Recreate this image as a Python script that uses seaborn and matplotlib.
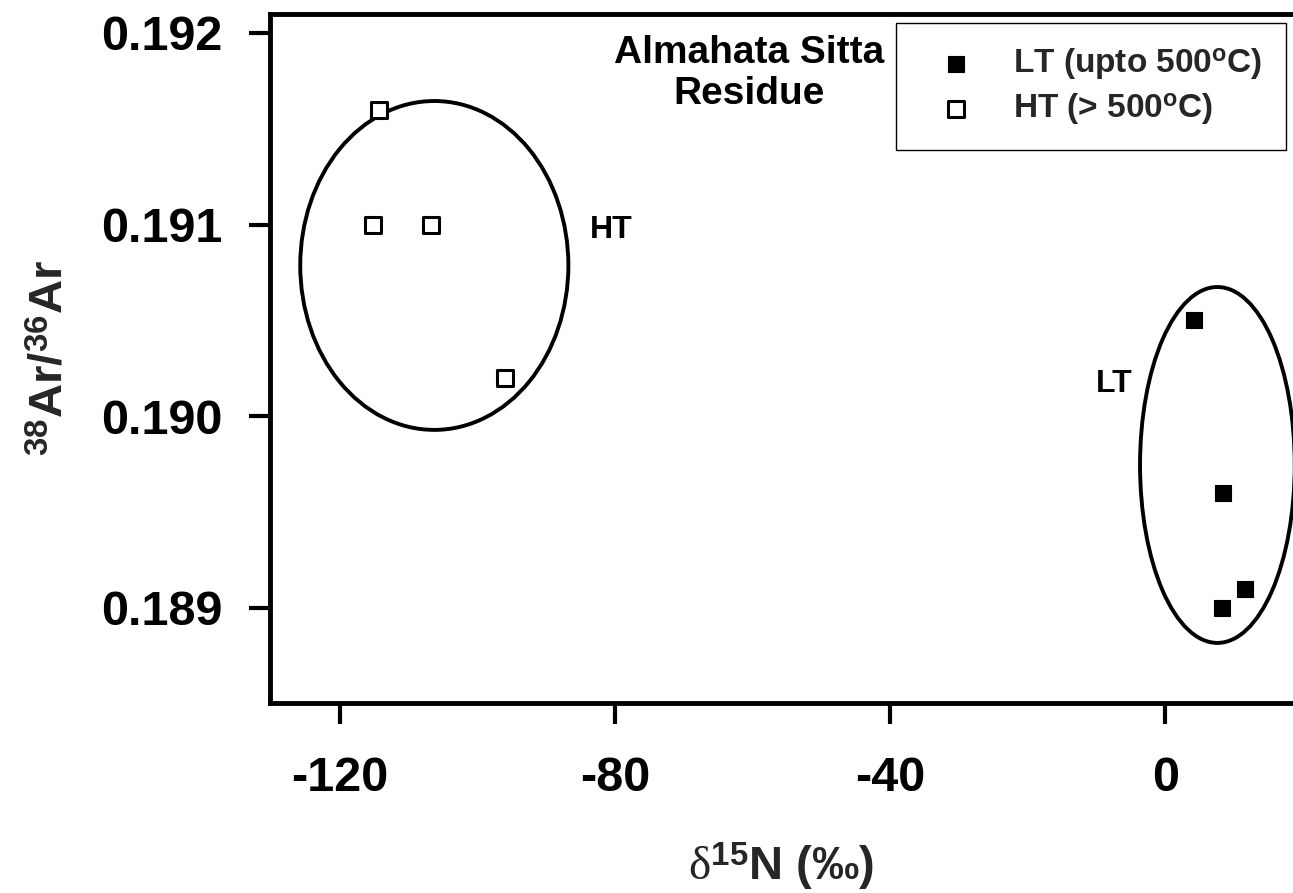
import matplotlib
matplotlib.use("Agg")
import matplotlib.pyplot as plt
from matplotlib.patches import Ellipse
import seaborn as sns

# Step-heating data: delta15N (permil) vs 38Ar/36Ar
lt_d15n = [4.2, 8.4, 8.3, 11.6]
lt_ar = [0.1905, 0.1896, 0.1890, 0.1891]
ht_d15n = [-114.3, -115.2, -106.8, -96.0]
ht_ar = [0.1916, 0.1910, 0.1910, 0.1902]

lt_label = r"LT (upto 500$^{\mathrm{o}}$C)"
ht_label = r"HT (> 500$^{\mathrm{o}}$C)"

x_ticks = [-120, -80, -40, 0]
y_ticks = [0.189, 0.190, 0.191, 0.192]

# outlines drawn around each temperature group: (centre x, centre y, width, height)
ht_outline = (-106.3, 0.190787, 39.0, 0.001716)
lt_outline = (7.6, 0.189746, 22.5, 0.001857)

sns.set_theme(style="white")
plt.rcParams["font.family"] = ["Liberation Sans", "DejaVu Sans"]
plt.rcParams["font.weight"] = "bold"
plt.rcParams["mathtext.fontset"] = "custom"
plt.rcParams["mathtext.rm"] = "Liberation Sans:bold"
plt.rcParams["mathtext.bf"] = "Liberation Sans:bold"
plt.rcParams["mathtext.it"] = "Liberation Serif:weight=normal"
plt.rcParams["axes.unicode_minus"] = False

fig = plt.figure(figsize=(12.93, 8.93), dpi=100)
ax = fig.add_axes([270 / 1293, 190 / 893, 1023 / 1293, 689 / 893])

for cx, cy, w, h in (ht_outline, lt_outline):
    ax.add_patch(Ellipse((cx, cy), w, h, facecolor="none", edgecolor="black",
                         linewidth=2.8, zorder=2))

sns.scatterplot(x=lt_d15n, y=lt_ar, marker="s", s=130, color="black",
                edgecolor="black", linewidth=0.8, label=lt_label, ax=ax, zorder=3)
sns.scatterplot(x=ht_d15n, y=ht_ar, marker="s", s=121, color="white",
                edgecolor="black", linewidth=2.2, label=ht_label, ax=ax, zorder=3)

ax.set_xlim(-130.2, 18.6)
ax.set_ylim(0.188504, 0.192099)
ax.set_xticks(x_ticks, labels=[str(v) for v in x_ticks])
ax.set_yticks(y_ticks, labels=[f"{v:.3f}" for v in y_ticks])

ax.tick_params(axis="both", direction="out", length=15, width=3,
               labelsize=35, color="black", labelcolor="black")
ax.tick_params(axis="x", pad=23, bottom=True)
ax.tick_params(axis="y", pad=19, left=True)
for lab in ax.get_xticklabels() + ax.get_yticklabels():
    lab.set_fontweight("bold")

for side in ("left", "bottom", "top"):
    ax.spines[side].set_linewidth(3.5)
    ax.spines[side].set_color("black")
ax.spines["right"].set_visible(False)

ax.set_xlabel(r"$\delta$$^{\mathrm{15}}$N (‰)", fontsize=34, fontweight="bold")
ax.xaxis.set_label_coords(0.5, -0.257)
ax.xaxis.label.set_verticalalignment("baseline")
ax.set_ylabel(r"$^{\mathrm{38}}$Ar/$^{\mathrm{36}}$Ar", fontsize=34, fontweight="bold")
ax.yaxis.set_label_coords(-0.2023, 0.5)
ax.yaxis.label.set_verticalalignment("baseline")

ax.text(-60.5, 0.19199, "Almahata Sitta\nResidue", ha="center", va="top",
        fontsize=28, fontweight="bold", color="black")
ax.text(-80.6, 0.190931, "HT", ha="center", va="baseline",
        fontsize=23, fontweight="bold", color="black")
ax.text(-7.4, 0.190127, "LT", ha="center", va="baseline",
        fontsize=23, fontweight="bold", color="black")

handles, labels = ax.get_legend_handles_labels()
leg = ax.legend(handles, labels, loc="upper left",
                bbox_to_anchor=(0.612, 0.987), fontsize=24, frameon=True,
                fancybox=False, framealpha=1, edgecolor="black",
                borderpad=0.7, handlelength=2.2, handletextpad=0.62,
                labelspacing=0.3, scatterpoints=1, borderaxespad=0)
leg.get_frame().set_linewidth(1.0)
for t in leg.get_texts():
    t.set_fontweight("bold")

fig.savefig("out.png", dpi=100)
